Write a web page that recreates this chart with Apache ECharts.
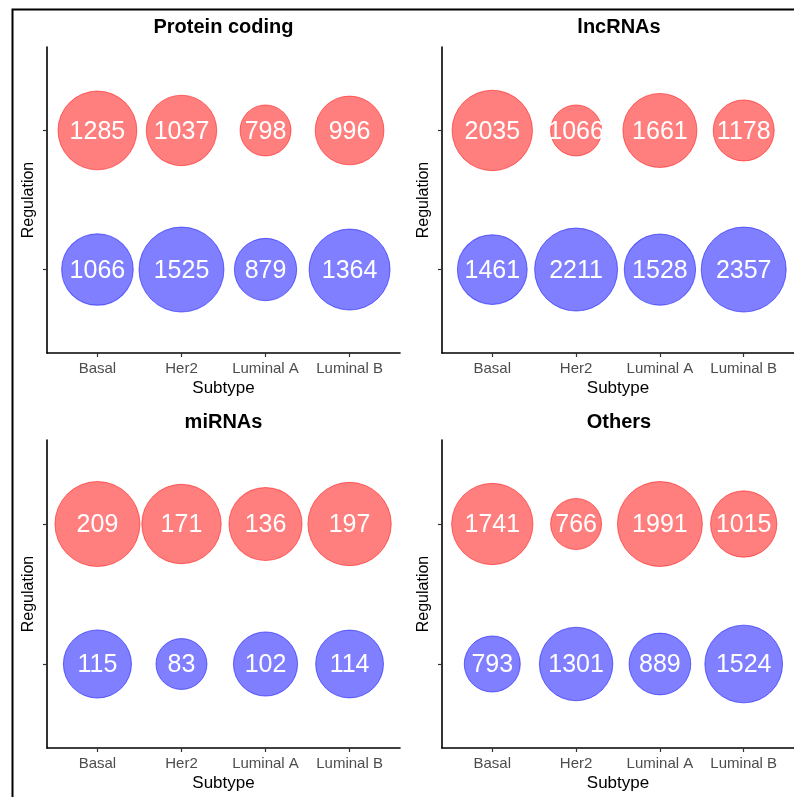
<!DOCTYPE html>
<html>
<head>
<meta charset="utf-8">
<script src="https://cdn.jsdelivr.net/npm/echarts@6/dist/echarts.min.js"></script>
<style>
  html, body { margin: 0; padding: 0; background: #fff; }
  #chart { width: 794px; height: 797px; }
</style>
</head>
<body>
<div id="chart"></div>
<script>
// Subtypes on the x axis, regulation direction on the y axis
const subtypes = ['Basal', 'Her2', 'Luminal A', 'Luminal B'];
const panelTitles = ['Protein coding', 'lncRNAs', 'miRNAs', 'Others'];

// Number of up-regulated (top row) and down-regulated (bottom row) genes per subtype
const proteinUp   = [1285, 1037, 798, 996];
const proteinDown = [1066, 1525, 879, 1364];
const lncUp       = [2035, 1066, 1661, 1178];
const lncDown     = [1461, 2211, 1528, 2357];
const mirUp       = [209, 171, 136, 197];
const mirDown     = [115, 83, 102, 114];
const otherUp     = [1741, 766, 1991, 1015];
const otherDown   = [793, 1301, 889, 1524];

const panels = [
  { up: proteinUp, down: proteinDown },
  { up: lncUp, down: lncDown },
  { up: mirUp, down: mirDown },
  { up: otherUp, down: otherDown }
];

const FONT = '"Liberation Sans", Arial, Helvetica, sans-serif';
const RED = 'rgba(255,0,0,0.5)';
const BLUE = 'rgba(0,0,255,0.5)';

// Plot-area rectangles for the 2x2 layout
const grids = [
  { left: 47,  top: 47,  width: 353, height: 306 },
  { left: 442, top: 47,  width: 354, height: 306 },
  { left: 47,  top: 440, width: 353, height: 308 },
  { left: 442, top: 440, width: 354, height: 308 }
];

// Area-style size scale per panel: radius grows with sqrt of the rescaled value
const R_MIN = 25.5, R_MAX = 42.5;
function sizeScale(values) {
  const lo = Math.min(...values), hi = Math.max(...values);
  return function (v) {
    const t = hi === lo ? 1 : (v - lo) / (hi - lo);
    return 2 * (R_MIN + Math.sqrt(t) * (R_MAX - R_MIN));
  };
}

const xAxes = [], yAxes = [], series = [], graphics = [];

panels.forEach((p, k) => {
  const size = sizeScale(p.up.concat(p.down));
  xAxes.push({
    gridIndex: k, type: 'value', min: 0.4, max: 4.6,
    name: 'Subtype', nameLocation: 'middle', nameGap: 27,
    nameTextStyle: { color: '#000', fontSize: 17, fontFamily: FONT },
    axisLine: { show: true, lineStyle: { color: '#000', width: 1.6 } },
    axisTick: { show: true, length: 4, customValues: [1, 2, 3, 4], lineStyle: { color: '#333', width: 1.2 } },
    axisLabel: { customValues: [1, 2, 3, 4], formatter: v => subtypes[Math.round(v) - 1],
                 color: '#4D4D4D', fontSize: 15, fontFamily: FONT, margin: 8 },
    splitLine: { show: false }
  });
  yAxes.push({
    gridIndex: k, type: 'value', min: 0.4, max: 2.6,
    name: 'Regulation', nameLocation: 'middle', nameGap: 10,
    nameTextStyle: { color: '#000', fontSize: 16, fontFamily: FONT },
    axisLine: { show: true, lineStyle: { color: '#000', width: 1.6 } },
    axisTick: { show: true, length: 4, customValues: [1, 2], lineStyle: { color: '#333', width: 1.2 } },
    axisLabel: { show: false },
    splitLine: { show: false }
  });
  [['Up', p.up, 2, RED], ['Down', p.down, 1, BLUE]].forEach(([nm, vals, row, col]) => {
    series.push({
      name: nm, type: 'scatter', xAxisIndex: k, yAxisIndex: k,
      data: vals.map((v, i) => [i + 1, row, v]),
      symbolSize: d => size(d[2]),
      itemStyle: { color: col, borderColor: col, borderWidth: 1, opacity: 1 },
      label: { show: true, position: 'inside', offset: [0, 1.5], formatter: d => String(d.value[2]),
               color: '#fff', fontSize: 25, fontFamily: FONT },
      emphasis: { disabled: true },
      silent: true
    });
  });
  const g = grids[k];
  graphics.push({
    type: 'text', x: g.left + g.width / 2, y: k < 2 ? 27 : 422,
    style: { text: panelTitles[k], align: 'center', verticalAlign: 'middle',
             font: 'bold 20px ' + FONT, fill: '#000' }
  });
});

// Outer frame around the whole figure
graphics.push({
  type: 'rect', shape: { x: 12.5, y: 9.5, width: 820, height: 820 },
  style: { fill: null, stroke: '#000', lineWidth: 2 }
});

const chart = echarts.init(document.getElementById('chart'), null, { renderer: 'canvas' });
chart.setOption({
  animation: false,
  backgroundColor: '#fff',
  grid: grids.map(g => Object.assign({ containLabel: false }, g)),
  xAxis: xAxes,
  yAxis: yAxes,
  series: series,
  graphic: graphics
});
</script>
</body>
</html>
